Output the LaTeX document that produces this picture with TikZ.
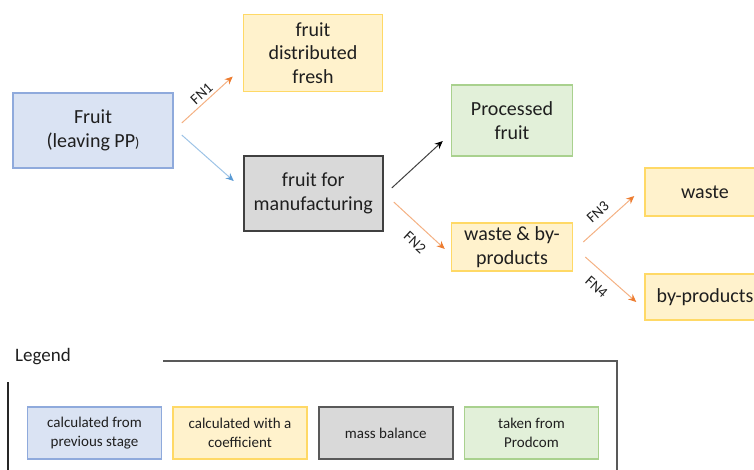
\documentclass[tikz,border=0pt]{standalone}
\usepackage{fontspec}
\setmainfont{Carlito}
\usepackage{tikz}
\usetikzlibrary{positioning, arrows.meta}
\definecolor{prevFill}{HTML}{DAE3F3}
\definecolor{prevLine}{HTML}{8FAADC}
\definecolor{coefFill}{HTML}{FFF2CC}
\definecolor{coefLine}{HTML}{FFD966}
\definecolor{massFill}{HTML}{D9D9D9}
\definecolor{massLine}{HTML}{404040}
\definecolor{prodFill}{HTML}{E2F0D9}
\definecolor{prodLine}{HTML}{A9D18E}
\definecolor{fnLine}{HTML}{F4B183}
\definecolor{fnTip}{HTML}{ED7D31}
\definecolor{blueLine}{HTML}{9DC3E6}
\definecolor{blueTip}{HTML}{5B9BD5}
\tikzset{
    x=1pt, y=-1pt, % one unit is one pixel of the picture
    every node/.style={text=black!88, align=center, inner sep=0pt}, % dark text, centred lines
    box/.style={draw, line width=1.5pt, font=\fontsize{20}{23.5}\selectfont}, % the big boxes
    keybox/.style={draw, line width=1.5pt, minimum width=134pt, minimum height=52pt, font=\fontsize{15}{19}\selectfont}, % boxes of the legend
    fnlabel/.style={sloped, font=\fontsize{15}{15}\selectfont}, % the FN names on the arrows
}

\begin{document}
\begin{tikzpicture}[
                                prev/.style={fill=prevFill, draw=prevLine},
                                coef/.style={fill=coefFill, draw=coefLine},
                                mass/.style={fill=massFill, draw=massLine, line width=2pt},
                                prod/.style={fill=prodFill, draw=prodLine},
                                fnarrow/.style={draw=fnLine, line width=1pt, -{Stealth[length=8pt, width=7pt, color=fnTip]}},
                                bluearrow/.style={draw=blueLine, line width=1pt, -{Stealth[length=8pt, width=7pt, color=blueTip]}},
                                blackarrow/.style={draw=black!75, line width=1pt, -{Stealth[length=8pt, width=7pt, color=black]}},
                            ]
                            \clip (0,0) rectangle (754,470);
                            \useasboundingbox (0,0) rectangle (754,470);
                            \node[box, prev, minimum width=160pt, minimum height=75pt] (fruit) at (93,130.5) {Fruit\\(leaving PP{\fontsize{14}{14}\selectfont)}};
                            \node[box, coef, minimum width=139pt, minimum height=77pt, above right=0pt and 69pt of fruit] (fresh) {fruit\\distributed\\fresh};
                            \node[box, mass, minimum width=139pt, minimum height=75pt, right=69pt of fruit, yshift=-63pt] (manuf) {fruit for\\manufacturing};
                            \node[box, prod, minimum width=121pt, minimum height=71pt, right=67pt of manuf, yshift=73pt] (processed) {Processed\\fruit};
                            \node[box, coef, minimum width=121pt, minimum height=48pt, right=67pt of manuf, yshift=-53.5pt] (wastebp) {waste \& by-\\products};
                            \node[box, coef, minimum width=120pt, minimum height=48pt, right=71pt of wastebp, yshift=55pt] (waste) {waste};
                            \node[box, coef, minimum width=120pt, minimum height=46pt, right=71pt of wastebp, yshift=-50pt] (byprod) {by-products};
                            \draw[fnarrow] ([xshift=8pt, yshift=7.5pt]fruit.east) -- node[fnlabel, above=3pt] {FN1} ([xshift=-10pt, yshift=-23.5pt]fresh.west);
                            \draw[bluearrow] ([xshift=8pt, yshift=-4.5pt]fruit.east) -- ([xshift=-9pt, yshift=12.5pt]manuf.west);
                            \draw[blackarrow] ([xshift=8pt, yshift=5.5pt]manuf.east) -- ([xshift=-8pt, yshift=-20.5pt]processed.west);
                            \draw[fnarrow] ([xshift=10pt, yshift=-8.5pt]manuf.east) -- node[fnlabel, pos=0.62, below=10pt] {FN2} ([xshift=-6pt, yshift=-2pt]wastebp.west);
                            \draw[fnarrow] ([xshift=10pt, yshift=5pt]wastebp.east) -- node[fnlabel, pos=0.45, above=7pt] {FN3} ([xshift=-10pt, yshift=-4pt]waste.west);
                            \draw[fnarrow] ([xshift=12pt, yshift=-10pt]wastebp.east) -- node[fnlabel, pos=0.42, below=10pt] {FN4} ([xshift=-8pt, yshift=-5pt]byprod.west);
                            % legend
                            \node[font=\fontsize{19}{19}\selectfont] (legend) at (43,357) {Legend};
                            \draw[black!65, line width=1.5pt] (163,361) -- (617,361) -- (617,475);
                            \draw[black!85, line width=1.5pt] (8,382) -- (8,475);
                            \node[keybox, prev] (keyprev) at (94.5,433) {calculated from\\previous stage};
                            \node[keybox, coef, right=10pt of keyprev] (keycoef) {calculated with a\\coefficient};
                            \node[keybox, mass, draw=black!65, right=10pt of keycoef] (keymass) {mass balance};
                            \node[keybox, prod, right=10pt of keymass] (keyprod) {taken from\\Prodcom};
                        \end{tikzpicture}
\end{document}
